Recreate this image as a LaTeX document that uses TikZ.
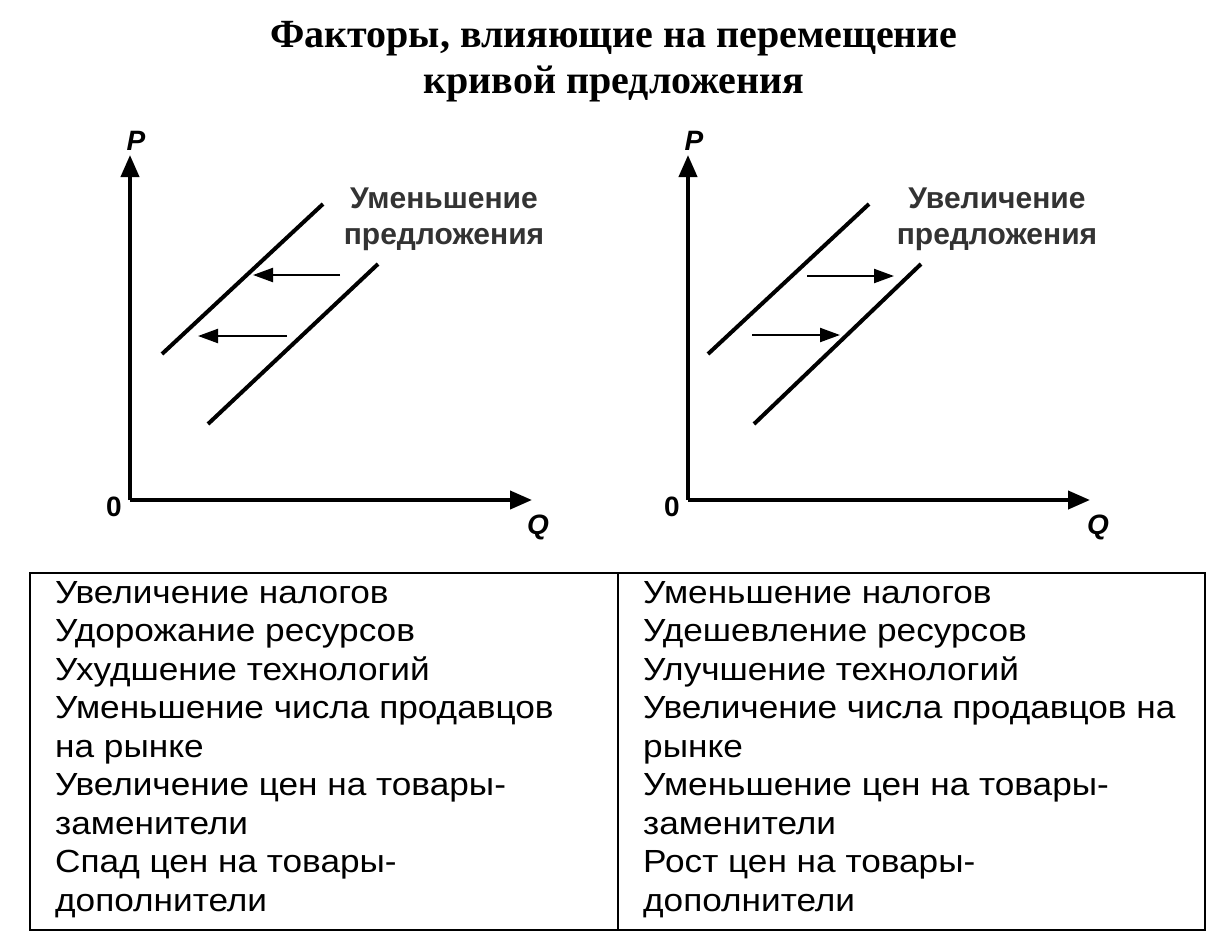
\documentclass[tikz,border=0pt]{standalone}
\usepackage{fontspec}
\setmainfont{Liberation Sans}
\newfontfamily\titlefont{Liberation Serif}
\newfontfamily\cellfont[FakeStretch=1.1]{Liberation Sans}
\usetikzlibrary{arrows.meta}
\begin{document}
\begin{tikzpicture}[x=1pt,y=-1pt,
  ax/.style={line width=4pt,-{Triangle[length=22pt,width=18pt]}},
  crv/.style={line width=4pt},
  shiftarr/.style={line width=2.2pt,-{Triangle[length=20pt,width=14pt]}},
  lbl/.style={font=\fontsize{30}{36}\selectfont\bfseries, align=center, text=black!80},
  axl/.style={font=\fontsize{28}{30}\selectfont\bfseries\itshape},
  cell/.style={font=\cellfont\fontsize{32}{38.5}\selectfont, align=left, anchor=north west, inner sep=0pt}]
\useasboundingbox[fill=white] (0,0) rectangle (1216,937);
\node[font=\titlefont\fontsize{40}{46}\selectfont\bfseries, align=center] (title) at (614,62) {Факторы, влияющие на перемещение\\кривой предложения};
% left chart
\coordinate (o1) at (130,500);
\coordinate (p1) at (130,155);
\coordinate (q1) at (532,500);
\draw[ax] (o1) -- (p1);
\draw[ax] (o1) -- (q1);
\node[axl] (P1) at (136,141) {P};
\node[font=\fontsize{28}{30}\selectfont\bfseries] (z1) at (114,507) {0};
\node[axl] (Q1) at (538,527) {Q};
\coordinate (a1) at (162,354); \coordinate (b1) at (323,204);
\coordinate (c1) at (208,424); \coordinate (d1) at (378,264);
\draw[crv] (a1) -- (b1);
\draw[crv] (c1) -- (d1);
\coordinate (s1) at (340,275); \coordinate (e1) at (253,275);
\coordinate (s2) at (287,336); \coordinate (e2) at (198,336);
\draw[shiftarr] (s1) -- (e1);
\draw[shiftarr] (s2) -- (e2);
\node[lbl] (L1) at (444,219) {Уменьшение\\предложения};
% right chart
\coordinate (o2) at (688,500);
\coordinate (p2) at (688,155);
\coordinate (q2) at (1090,500);
\draw[ax] (o2) -- (p2);
\draw[ax] (o2) -- (q2);
\node[axl] (P2) at (694,141) {P};
\node[font=\fontsize{28}{30}\selectfont\bfseries] (z2) at (672,507) {0};
\node[axl] (Q2) at (1098,527) {Q};
\coordinate (a2) at (708,354); \coordinate (b2) at (869,204);
\coordinate (c2) at (754,424); \coordinate (d2) at (921,264);
\draw[crv] (a2) -- (b2);
\draw[crv] (c2) -- (d2);
\coordinate (s3) at (807,276); \coordinate (e3) at (894,276);
\coordinate (s4) at (752,335); \coordinate (e4) at (840,335);
\draw[shiftarr] (s3) -- (e3);
\draw[shiftarr] (s4) -- (e4);
\node[lbl] (L2) at (997,219) {Увеличение\\предложения};
% table
\draw[line width=2.5pt] (30,573) rectangle (1205,930);
\draw[line width=2.5pt] (618,573) -- (618,930);
\node[cell] (T1) at (55,581) {Увеличение налогов\\Удорожание ресурсов\\Ухудшение технологий\\Уменьшение числа продавцов\\на рынке\\Увеличение цен на товары-\\заменители\\Спад цен на товары-\\дополнители};
\node[cell] (T2) at (643,581) {Уменьшение налогов\\Удешевление ресурсов\\Улучшение технологий\\Увеличение числа продавцов на\\рынке\\Уменьшение цен на товары-\\заменители\\Рост цен на товары-\\дополнители};
\end{tikzpicture}
\end{document}
